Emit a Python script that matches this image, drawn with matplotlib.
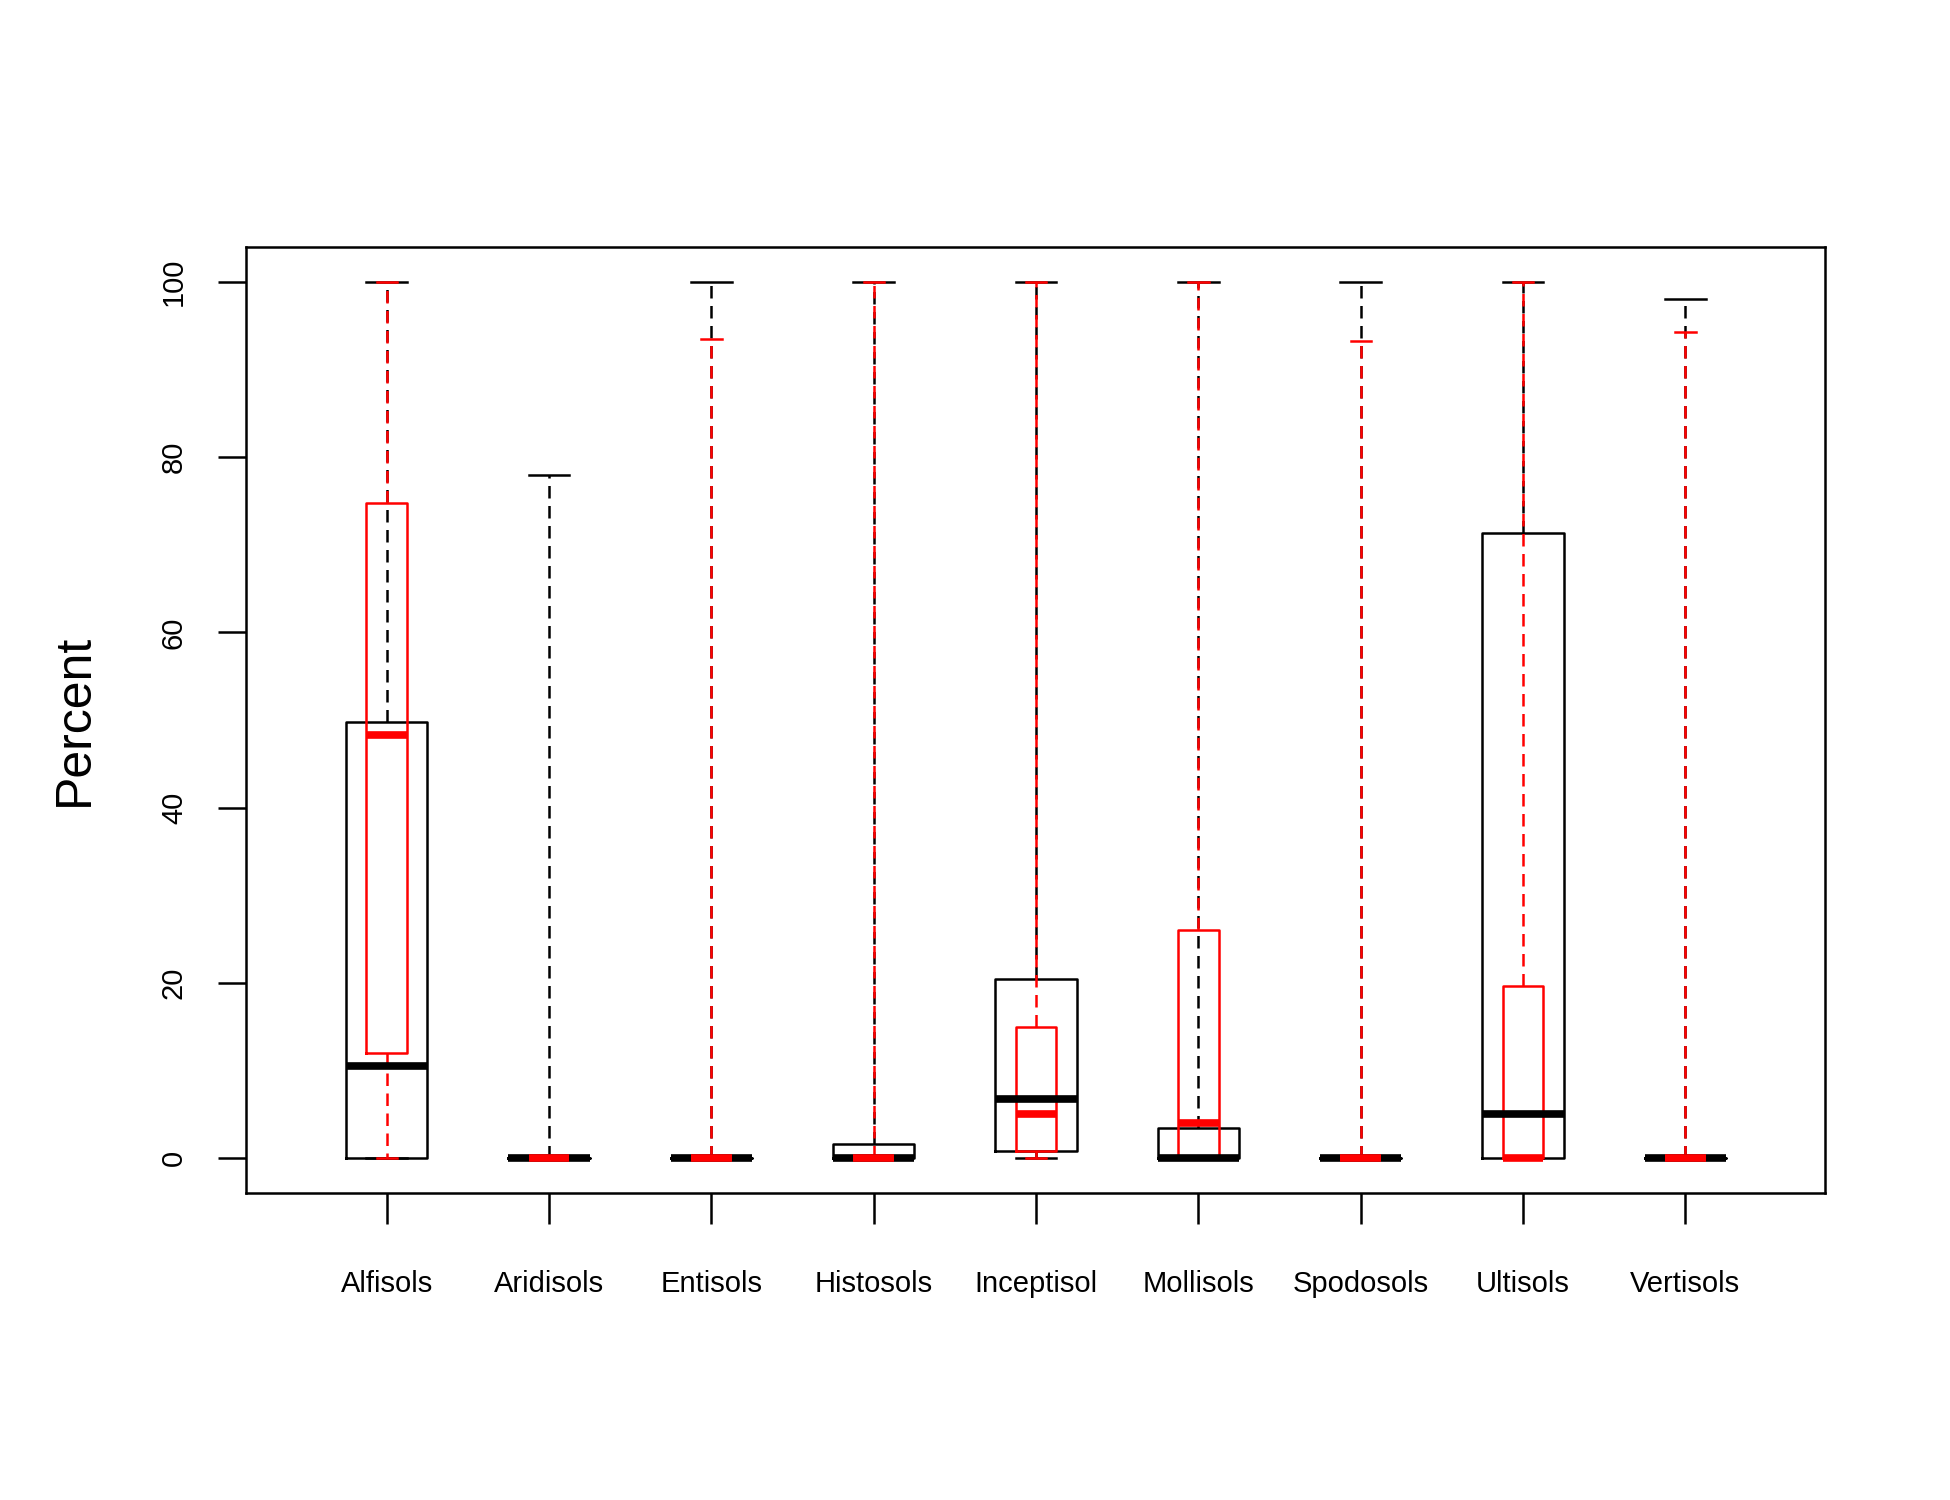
import matplotlib
matplotlib.use("Agg")
import matplotlib.pyplot as plt

categories = ["Alfisols","Aridisols","Entisols","Histosols","Inceptisol","Mollisols","Spodosols","Ultisols","Vertisols"]
# (whislo, q1, med, q3, whishi)
black_stats = [(0,0,10.5,49.8,100),(0,0,0,0,78),(0,0,0,0,100),(0,0,0,1.6,100),(0,0.8,6.8,20.5,100),
               (0,0,0,3.5,100),(0,0,0,0,100),(0,0,5,71.3,100),(0,0,0,0,98)]
red_stats = [(0,12,48.3,74.8,100),(0,0,0,0,0),(0,0,0,0,93.5),(0,0,0,0,100),(0,0.8,5,15,100),
             (0,0,4,26,100),(0,0,0,0,93.3),(0,0,0,19.7,100),(0,0,0,0,94.3)]
yticks = [0,20,40,60,80,100]

plt.rcParams["font.family"] = "Liberation Sans"
fig = plt.figure(figsize=(19.5,15), dpi=100)
ax = fig.add_axes([0.1263,0.2045,0.8096,0.631])

def mk(stats):
    return [dict(whislo=s[0],q1=s[1],med=s[2],q3=s[3],whishi=s[4],fliers=[]) for s in stats]

pos = list(range(1,len(categories)+1))
for stats, col, w, capw in [(black_stats,"black",0.5,0.25),(red_stats,"red",0.25,0.125)]:
    ax.bxp(mk(stats), positions=pos, widths=w, showfliers=False, capwidths=capw,
           boxprops=dict(color=col, lw=1.8),
           whiskerprops=dict(color=col, lw=1.8, ls=(0,(5,3))),
           capprops=dict(color=col, lw=1.8),
           medianprops=dict(color=col, lw=5.5, solid_capstyle="butt"))

ax.set_xlim(0.135,9.86)
ax.set_ylim(-4,104)
ax.set_xticks(pos)
ax.set_xticklabels(categories, fontsize=21)
ax.set_yticks(yticks)
ax.set_yticklabels([str(v) for v in yticks], fontsize=21, rotation=90, va="center")
ax.tick_params(axis="x", length=22, width=1.8, pad=33)
ax.tick_params(axis="y", length=20, width=1.8, pad=22)
for s in ax.spines.values():
    s.set_linewidth(1.8)
ax.set_ylabel("Percent", fontsize=36, labelpad=45)
fig.savefig("out.png")
